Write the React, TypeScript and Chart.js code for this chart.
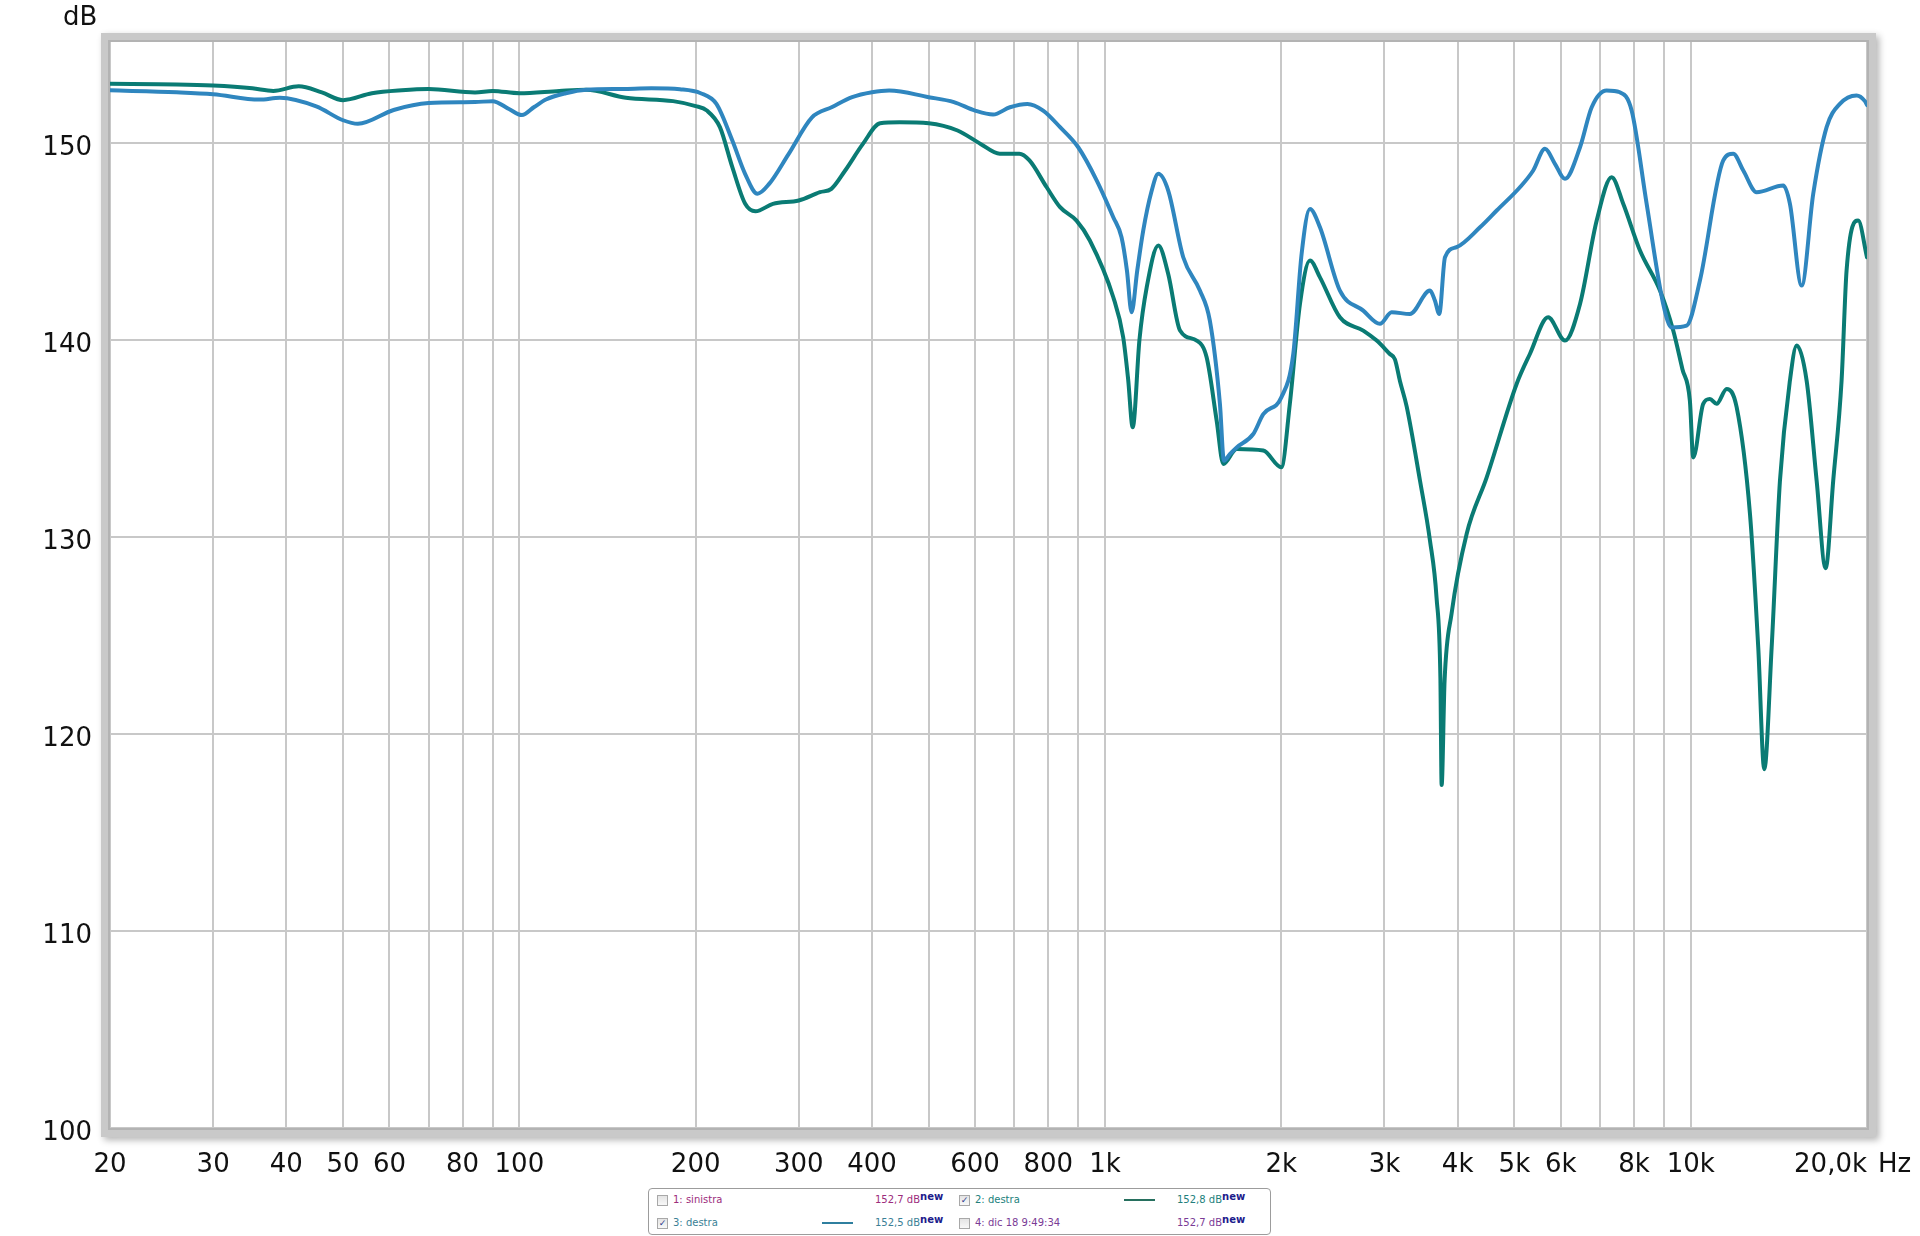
import { useEffect, useRef } from 'react';
import Chart from 'chart.js/auto';

// frequency grid and labels
const gridFreqs = [20, 30, 40, 50, 60, 70, 80, 90, 100, 200, 300, 400, 500, 600, 700, 800, 900, 1000, 2000, 3000, 4000, 5000, 6000, 7000, 8000, 9000, 10000, 20000];
const labelFreqs = [20, 30, 40, 50, 60, 80, 100, 200, 300, 400, 600, 800, 1000, 2000, 3000, 4000, 5000, 6000, 8000, 10000];
const labelTexts = ['20', '30', '40', '50', '60', '80', '100', '200', '300', '400', '600', '800', '1k', '2k', '3k', '4k', '5k', '6k', '8k', '10k'];
const dbTicks = [100, 110, 120, 130, 140, 150];

// 3: destra (blue)
const blueFreq = [20, 26, 30, 36, 39, 45, 50, 53, 61, 70, 84, 90, 96, 101, 106, 111, 120, 130, 150, 168, 188, 204, 217, 231, 243, 255, 267, 288, 316, 342, 370, 400, 428, 500, 552, 600, 644, 688, 737, 784, 838, 900, 968, 1033, 1067, 1090, 1110, 1135, 1162, 1200, 1233, 1282, 1360, 1452, 1510, 1571, 1596, 1635, 1678, 1791, 1863, 2000, 2096, 2166, 2238, 2328, 2518, 2760, 2947, 3086, 3316, 3588, 3658, 3721, 3806, 3984, 4368, 4664, 5110, 5384, 5638, 5864, 6100, 6472, 6776, 7186, 7570, 7928, 8410, 8976, 9278, 9840, 10370, 11366, 11820, 12296, 12960, 14388, 14772, 15468, 16190, 17064, 17978, 19196, 19834, 20000];
const blueDb = [152.65, 152.55, 152.45, 152.18, 152.27, 151.83, 151.13, 150.95, 151.65, 152.0, 152.05, 152.1, 151.7, 151.39, 151.8, 152.18, 152.5, 152.68, 152.72, 152.75, 152.7, 152.5, 151.96, 150.1, 148.4, 147.4, 147.9, 149.4, 151.28, 151.8, 152.3, 152.55, 152.64, 152.3, 152.05, 151.62, 151.42, 151.79, 151.96, 151.62, 150.78, 149.76, 148.07, 146.21, 145.19, 143.5, 141.39, 143.5, 145.53, 147.5, 148.41, 147.56, 144.18, 142.49, 140.96, 136.74, 133.86, 134.2, 134.53, 135.21, 136.22, 137.07, 139.27, 144.35, 146.63, 145.7, 142.49, 141.47, 140.8, 141.39, 141.3, 142.49, 141.98, 141.3, 144.18, 144.69, 145.7, 146.55, 147.73, 148.58, 149.68, 148.92, 148.16, 149.76, 151.79, 152.64, 152.55, 151.62, 146.89, 141.81, 140.62, 140.71, 143.0, 149.09, 149.43, 148.58, 147.48, 147.82, 146.89, 142.74, 147.4, 150.78, 151.96, 152.39, 152.1, 151.9];

// 2: destra (green)
const greenFreq = [20, 26, 30, 35, 38, 42, 46, 50, 56, 63, 70, 84, 90, 100, 117, 130, 152, 183, 200, 209, 220, 231, 243, 253, 271, 300, 326, 341, 360, 386, 413, 446, 500, 560, 613, 661, 714, 743, 795, 838, 894, 942, 1033, 1074, 1095, 1115, 1145, 1178, 1233, 1282, 1343, 1434, 1491, 1551, 1592, 1678, 1863, 2000, 2068, 2152, 2238, 2328, 2518, 2760, 2910, 3064, 3126, 3188, 3274, 3450, 3588, 3682, 3738, 3756, 3800, 3906, 4144, 4484, 5044, 5314, 5710, 6100, 6472, 6910, 7328, 7670, 8192, 8862, 9336, 9680, 9968, 10100, 10504, 10784, 11072, 11520, 11980, 12624, 13042, 13354, 13748, 14204, 14772, 15168, 15774, 16408, 16998, 17512, 18098, 18456, 19316, 20000];
const greenDb = [152.98, 152.95, 152.89, 152.75, 152.62, 152.85, 152.54, 152.15, 152.5, 152.65, 152.71, 152.54, 152.62, 152.5, 152.62, 152.68, 152.27, 152.1, 151.85, 151.62, 150.78, 148.75, 146.89, 146.51, 146.89, 147.06, 147.48, 147.65, 148.58, 149.93, 150.98, 151.03, 150.98, 150.61, 149.93, 149.43, 149.43, 149.09, 147.73, 146.72, 146.04, 145.03, 142.15, 140.12, 138.0, 135.55, 140.0, 142.65, 144.77, 143.33, 140.46, 139.95, 139.1, 135.89, 133.69, 134.45, 134.37, 133.52, 136.74, 141.81, 144.01, 143.16, 141.13, 140.46, 139.95, 139.27, 139.0, 137.9, 136.6, 132.84, 129.8, 126.9, 122.8, 117.4, 122.7, 126.1, 130.14, 133.01, 137.75, 139.27, 141.13, 139.95, 141.81, 146.04, 148.24, 146.89, 144.52, 142.49, 140.46, 138.5, 136.9, 134.02, 136.74, 136.99, 136.74, 137.5, 136.57, 131.16, 124.38, 118.2, 124.38, 132.84, 137.92, 139.7, 137.92, 132.84, 128.4, 132.84, 137.92, 143.5, 146.04, 144.18];

const blueColor = '#2f86bf';
const greenColor = '#0a7b74';
const labelFont = '26px "DejaVu Sans"';

const frameAndLabels = {
  id: 'frameAndLabels',
  afterDraw(chart: any) {
    const { ctx, chartArea: a, scales } = chart;
    const xs = scales.x;
    const ys = scales.y;
    const bw = 9;

    // grey frame with soft shadow, kept outside the plot area
    ctx.save();
    ctx.beginPath();
    ctx.rect(0, 0, chart.width, chart.height);
    ctx.rect(a.left, a.top, a.width, a.height);
    ctx.clip('evenodd');
    ctx.shadowColor = 'rgba(0,0,0,0.3)';
    ctx.shadowBlur = 7;
    ctx.shadowOffsetX = 3;
    ctx.shadowOffsetY = 3;
    ctx.fillStyle = '#c9c9c9';
    ctx.beginPath();
    ctx.rect(a.left - bw, a.top - bw, a.width + 2 * bw, a.height + 2 * bw);
    ctx.rect(a.left, a.top, a.width, a.height);
    ctx.fill('evenodd');
    ctx.shadowColor = 'transparent';
    ctx.strokeStyle = '#b3b3b3';
    ctx.lineWidth = 2;
    ctx.strokeRect(a.left - 1, a.top - 1, a.width + 2, a.height + 2);
    ctx.restore();

    ctx.save();
    ctx.font = labelFont;
    ctx.fillStyle = '#111';
    ctx.textBaseline = 'alphabetic';

    // frequency labels
    ctx.textAlign = 'center';
    labelFreqs.forEach((f, i) => {
      ctx.fillText(labelTexts[i], xs.getPixelForValue(f), a.bottom + 44);
    });
    ctx.textAlign = 'right';
    ctx.fillText('20,0k', xs.getPixelForValue(20000), a.bottom + 44);
    ctx.textAlign = 'left';
    ctx.fillText('Hz', xs.getPixelForValue(20000) + 11, a.bottom + 44);

    // dB labels
    ctx.textAlign = 'right';
    dbTicks.forEach((v) => {
      ctx.fillText(String(v), a.left - 18, ys.getPixelForValue(v) + 12);
    });
    ctx.textAlign = 'left';
    ctx.fillText('dB', 63, 25);
    ctx.restore();
  },
};

const legendEntries = [
  { x: 657, row: 0, checked: false, name: '1: sinistra', value: '152,7 dB', color: '#9c2c7c', line: '' },
  { x: 959, row: 0, checked: true, name: '2: destra', value: '152,8 dB', color: '#227f7c', line: '#27705f' },
  { x: 657, row: 1, checked: true, name: '3: destra', value: '152,5 dB', color: '#3a7f96', line: '#2f7f9f' },
  { x: 959, row: 1, checked: false, name: '4: dic 18 9:49:34', value: '152,7 dB', color: '#7a3b96', line: '' },
];

function Legend() {
  const rowY = [1200, 1222.5];
  const text = { position: 'absolute' as const, font: '10px "DejaVu Sans"', whiteSpace: 'nowrap' as const, lineHeight: '12px' };
  return (
    <div>
      <div style={{ position: 'absolute', left: 648, top: 1188, width: 621, height: 45, border: '1px solid #9c9c9c', borderRadius: 4, background: '#fff' }} />
      {legendEntries.map((e, i) => {
        const cy = rowY[e.row];
        return (
          <div key={i}>
            <div style={{ position: 'absolute', left: e.x, top: cy - 5, width: 9, height: 9, border: '1px solid #a8a8a8', background: 'linear-gradient(#e4e4e4, #f8f8f8)', font: 'bold 9px "DejaVu Sans"', color: '#2a3a8c', textAlign: 'center', lineHeight: '9px' }}>
              {e.checked ? '✓' : ''}
            </div>
            <div style={{ ...text, left: e.x + 16, top: cy - 6, color: e.color }}>{e.name}</div>
            {e.line && <div style={{ position: 'absolute', left: e.x + 165, top: cy - 1, width: 31, height: 2, background: e.line }} />}
            <div style={{ ...text, left: e.x + 218, top: cy - 6, color: e.color }}>
              {e.value}
              <span style={{ font: 'bold 10px "DejaVu Sans"', color: '#1c1c8c', position: 'relative', top: -3 }}>new</span>
            </div>
          </div>
        );
      })}
    </div>
  );
}

export default function App() {
  const chartRef = useRef<HTMLCanvasElement | null>(null);
  const chartInstance = useRef<Chart | null>(null);

  useEffect(() => {
    if (!chartRef.current) return;
    if (chartInstance.current) chartInstance.current.destroy();

    const ctx = chartRef.current.getContext('2d');
    if (!ctx) return;

    chartInstance.current = new Chart(ctx, {
      type: 'line',
      data: {
        datasets: [
          {
            label: '3: destra',
            data: blueFreq.map((f, i) => ({ x: f, y: blueDb[i] })),
            borderColor: blueColor,
            borderWidth: 4,
            pointRadius: 0,
            cubicInterpolationMode: 'monotone',
            borderJoinStyle: 'round',
            borderCapStyle: 'round',
          },
          {
            label: '2: destra',
            data: greenFreq.map((f, i) => ({ x: f, y: greenDb[i] })),
            borderColor: greenColor,
            borderWidth: 4,
            pointRadius: 0,
            cubicInterpolationMode: 'monotone',
            borderJoinStyle: 'round',
            borderCapStyle: 'round',
          },
        ],
      },
      options: {
        responsive: true,
        maintainAspectRatio: false,
        animation: false,
        events: [],
        layout: { padding: { left: 110, top: 42, right: 53, bottom: 108 } },
        scales: {
          x: {
            type: 'logarithmic',
            min: 20,
            max: 20000,
            afterBuildTicks: (scale: any) => {
              scale.ticks = gridFreqs.map((v) => ({ value: v }));
            },
            ticks: { display: false },
            grid: { color: '#c8c8c8', lineWidth: 2, drawTicks: false },
            border: { display: false },
          },
          y: {
            type: 'linear',
            min: 100,
            max: 155.1,
            afterBuildTicks: (scale: any) => {
              scale.ticks = dbTicks.map((v) => ({ value: v }));
            },
            ticks: { display: false },
            grid: { color: '#c8c8c8', lineWidth: 2, drawTicks: false },
            border: { display: false },
          },
        },
        plugins: {
          legend: { display: false },
          tooltip: { enabled: false },
        },
      },
      plugins: [frameAndLabels],
    });

    return () => {
      if (chartInstance.current) {
        chartInstance.current.destroy();
        chartInstance.current = null;
      }
    };
  }, []);

  return (
    <div style={{ position: 'absolute', left: 0, top: 0, width: 1920, height: 1236, background: '#fff', overflow: 'hidden' }}>
      <div style={{ position: 'absolute', left: 0, top: 0, width: 1920, height: 1236 }}>
        <canvas ref={chartRef}></canvas>
      </div>
      <Legend />
    </div>
  );
}
